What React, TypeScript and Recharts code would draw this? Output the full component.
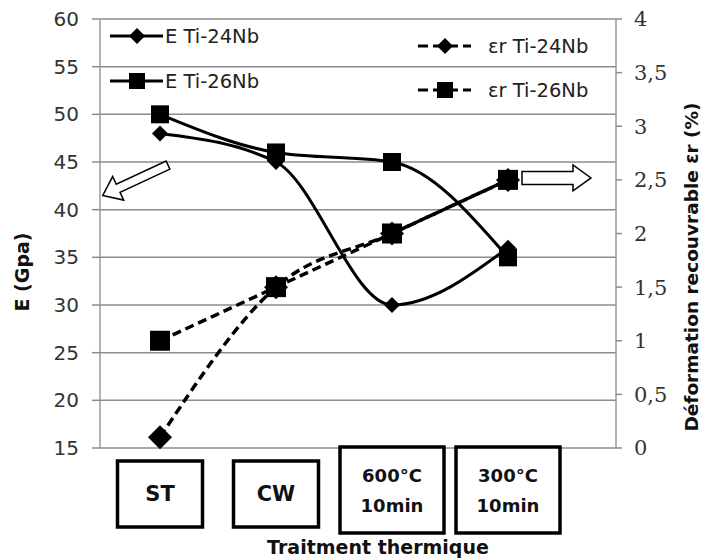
import { CartesianGrid, Line, LineChart, ReferenceDot, XAxis, YAxis } from 'recharts';

const categories = ['ST', 'CW', '600°C\n10min', '300°C\n10min'];
const eTi24Nb = [48, 45, 30, 36];
const eTi26Nb = [50, 46, 45, 35];
const erTi24Nb = [0.1, 1.5, 2, 2.5];
const erTi26Nb = [1, 1.5, 2, 2.5];
const leftTicks = [15, 20, 25, 30, 35, 40, 45, 50, 55, 60];
const rightTicks = [0, 0.5, 1, 1.5, 2, 2.5, 3, 3.5, 4];
const seriesNames = ['E Ti-24Nb', 'E Ti-26Nb', 'εr Ti-24Nb', 'εr Ti-26Nb'];

const data = categories.map((cat, i) => ({
  cat,
  e24: eTi24Nb[i],
  e26: eTi26Nb[i],
  er24: erTi24Nb[i],
  er26: erTi26Nb[i],
}));

const SANS = 'DejaVu Sans, sans-serif';
const SERIF = 'DejaVu Serif, serif';

const diamond = (r: number) => (p: any) => (
  <path
    key={p.index}
    d={`M${p.cx},${p.cy - r}L${p.cx + r},${p.cy}L${p.cx},${p.cy + r}L${p.cx - r},${p.cy}Z`}
    fill="#000"
  />
);
const square = (s: number) => (p: any) => (
  <rect key={p.index} x={p.cx - s / 2} y={p.cy - s / 2} width={s} height={s} fill="#000" />
);

// hollow arrow, drawn along +x from the tail then rotated
const arrow = (len: number, shaft: number, head: number, headLen: number, ox: number, oy: number, ang: number) =>
  (p: any) => {
    const b = len - headLen;
    const pts = [
      [0, -shaft / 2], [b, -shaft / 2], [b, -head / 2], [len, 0],
      [b, head / 2], [b, shaft / 2], [0, shaft / 2],
    ].map((q) => q.join(',')).join(' ');
    return (
      <polygon
        transform={`translate(${p.cx + ox},${p.cy + oy}) rotate(${ang})`}
        points={pts}
        fill="#fff"
        stroke="#000"
        strokeWidth={1.5}
      />
    );
  };

function CategoryTick({ x, y, payload }: any) {
  const lines = String(payload.value).split('\n');
  const two = lines.length > 1;
  const w = two ? 104 : 85;
  const h = two ? 86 : 66;
  const top = two ? y - 1 : y + 13;
  return (
    <g>
      <rect x={x - w / 2} y={top} width={w} height={h} fill="#fff" stroke="#000" strokeWidth={3.5} />
      {lines.map((l, i) => (
        <text
          key={i}
          x={x}
          y={two ? y + 34 + i * 30 : y + 53}
          textAnchor="middle"
          fontFamily={SANS}
          fontWeight="bold"
          fontSize={two ? 18 : 21}
          fill="#111"
        >
          {l}
        </text>
      ))}
    </g>
  );
}

function Title({ viewBox, text, dx, dy, rot, size }: any) {
  const cx = viewBox.x + dx;
  const cy = viewBox.y + dy;
  return (
    <text
      x={cx}
      y={cy}
      transform={rot ? `rotate(${rot},${cx},${cy})` : undefined}
      textAnchor="middle"
      dominantBaseline="central"
      fontFamily={SANS}
      fontWeight="bold"
      fontSize={size}
      fill="#111"
    >
      {text}
    </text>
  );
}

const legendItems = [
  { x: 110, y: 36, dashed: false, mark: 'diamond' },
  { x: 110, y: 81, dashed: false, mark: 'square' },
  { x: 418, y: 46, dashed: true, mark: 'diamond' },
  { x: 418, y: 90, dashed: true, mark: 'square' },
];

function LegendOverlay() {
  return (
    <svg
      width={702}
      height={120}
      style={{ position: 'absolute', left: 0, top: 0, pointerEvents: 'none' }}
    >
      {legendItems.map((it, i) => {
        const mx = it.x + 27;
        return (
          <g key={i}>
            <line
              x1={it.x}
              x2={it.x + 53}
              y1={it.y}
              y2={it.y}
              stroke="#000"
              strokeWidth={3}
              strokeDasharray={it.dashed ? '10 5' : undefined}
            />
            {it.mark === 'diamond' ? (
              <path d={`M${mx},${it.y - 8}L${mx + 8},${it.y}L${mx},${it.y + 8}L${mx - 8},${it.y}Z`} fill="#000" />
            ) : (
              <rect x={mx - 8} y={it.y - 8} width={16} height={16} fill="#000" />
            )}
            <text
              x={it.x + (it.dashed ? 70 : 55)}
              y={it.y + 7}
              fontFamily={SANS}
              fontSize={19.5}
              fill="#222"
            >
              {seriesNames[i]}
            </text>
          </g>
        );
      })}
    </svg>
  );
}

export default function App() {
  return (
    <div style={{ position: 'absolute', left: 0, top: 0, width: 702, height: 558, background: '#fff' }}>
      <LineChart width={702} height={558} data={data} margin={{ top: 19, right: 0, bottom: 0, left: 0 }}>
        <CartesianGrid vertical={false} stroke="#8c8c8c" strokeWidth={1.5} yAxisId="left" />
        <XAxis
          dataKey="cat"
          height={110}
          padding={{ left: 60, right: 108 }}
          axisLine={false}
          tickLine={false}
          tickSize={0}
          tickMargin={0}
          interval={0}
          tick={<CategoryTick />}
          label={<Title text="Traitment thermique" dx={278} dy={99} size={19} />}
        />
        <YAxis
          yAxisId="left"
          domain={[15, 60]}
          ticks={leftTicks}
          width={100}
          axisLine={{ stroke: '#9a9a9a', strokeWidth: 1.5 }}
          tickLine={{ stroke: '#8c8c8c', strokeWidth: 1.5 }}
          tickSize={8}
          tickMargin={13}
          tick={{ fill: '#333', fontFamily: SANS, fontSize: 20 }}
          label={<Title text="E (Gpa)" dx={22} dy={253} rot={-90} size={19} />}
        />
        <YAxis
          yAxisId="right"
          orientation="right"
          domain={[0, 4]}
          ticks={rightTicks}
          width={86}
          axisLine={{ stroke: '#9a9a9a', strokeWidth: 1.5 }}
          tickLine={{ stroke: '#8c8c8c', strokeWidth: 1.5 }}
          tickSize={6}
          tickMargin={12}
          tickFormatter={(v: number) => String(v).replace('.', ',')}
          tick={{ fill: '#333', fontFamily: SERIF, fontSize: 21 }}
          label={<Title text="Déformation recouvrable εr  (%)" dx={75} dy={248} rot={-90} size={18.5} />}
        />
        <Line
          yAxisId="right"
          dataKey="er26"
          type="monotone"
          stroke="#000"
          strokeWidth={3.5}
          strokeDasharray="9 5"
          dot={square(20)}
          isAnimationActive={false}
        />
        <Line
          yAxisId="right"
          dataKey="er24"
          type="monotone"
          stroke="#000"
          strokeWidth={3.5}
          strokeDasharray="9 5"
          dot={diamond(12)}
          isAnimationActive={false}
        />
        <Line
          yAxisId="left"
          dataKey="e24"
          type="monotone"
          stroke="#000"
          strokeWidth={3}
          dot={diamond(8)}
          isAnimationActive={false}
        />
        <Line
          yAxisId="left"
          dataKey="e26"
          type="monotone"
          stroke="#000"
          strokeWidth={3}
          dot={square(18)}
          isAnimationActive={false}
        />
        <ReferenceDot
          yAxisId="left"
          x={categories[0]}
          y={43}
          r={0}
          shape={arrow(72, 9, 26, 17, 8, -16, 155)}
        />
        <ReferenceDot
          yAxisId="right"
          x={categories[3]}
          y={2.5}
          r={0}
          shape={arrow(69, 13, 26, 18, 14, -2, 0)}
        />
      </LineChart>
      <LegendOverlay />
    </div>
  );
}
